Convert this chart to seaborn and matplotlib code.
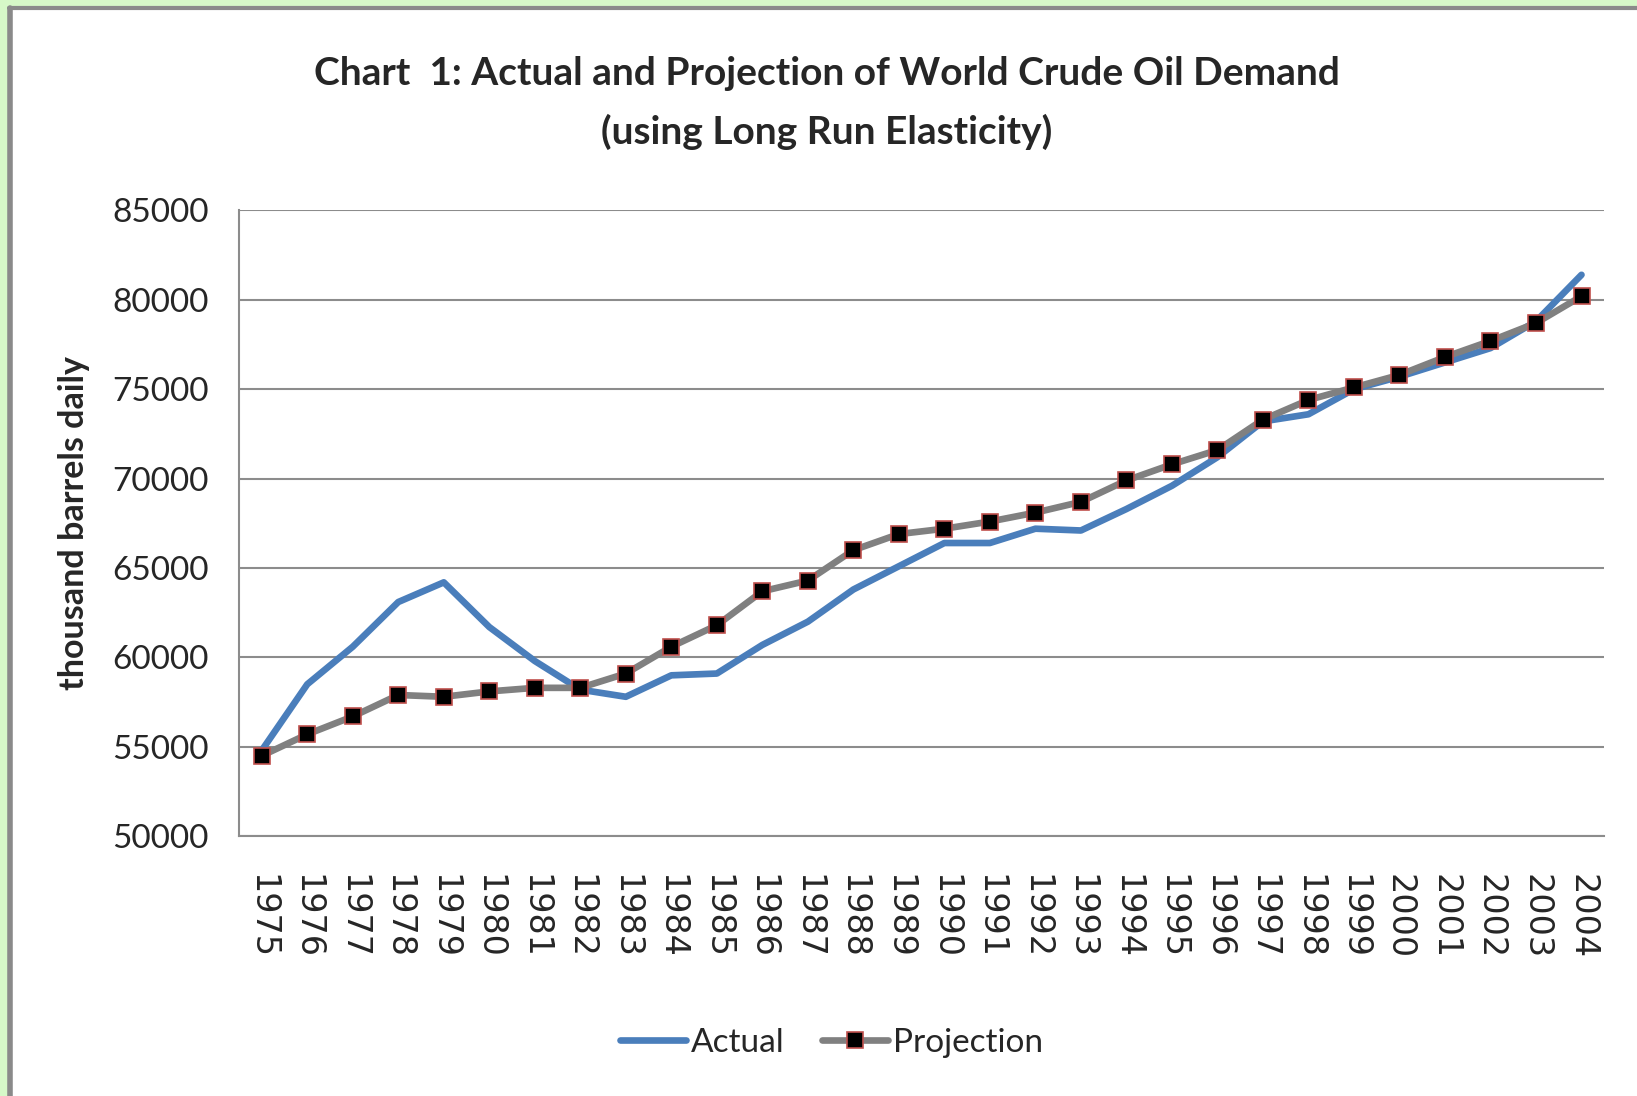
import matplotlib
matplotlib.use('Agg')
import matplotlib.pyplot as plt
import matplotlib.patches as mpatches
from matplotlib.lines import Line2D
import pandas as pd
import seaborn as sns

# Data
years = list(range(1975, 2005))
actual = [54800, 58500, 60600, 63100, 64200, 61700, 59800, 58200, 57800, 59000,
          59100, 60700, 62000, 63800, 65100, 66400, 66400, 67200, 67100, 68300,
          69600, 71200, 73200, 73600, 75000, 75700, 76500, 77300, 78800, 81400]
projection = [54500, 55700, 56700, 57900, 57800, 58100, 58300, 58300, 59100, 60600,
              61800, 63700, 64300, 66000, 66900, 67200, 67600, 68100, 68700, 69900,
              70800, 71600, 73300, 74400, 75100, 75800, 76800, 77700, 78700, 80200]
year_labels = [str(y) for y in years]

df = pd.DataFrame({'year': year_labels, 'Actual': actual, 'Projection': projection})

sns.set_style('white')
plt.rcParams['font.family'] = ['Lato', 'DejaVu Sans']

fig = plt.figure(figsize=(16.37, 10.96), dpi=100)
fig.patch.set_facecolor('#d6f8c8')

# white panel with grey frame on top and left
fig.patches.append(mpatches.Rectangle((0.0055, 0), 1.0, 0.9925, transform=fig.transFigure,
                                      facecolor='white', edgecolor='none', zorder=-2))
fig.add_artist(Line2D([0.0055, 1], [0.9925, 0.9925], transform=fig.transFigure,
                      color='#8a8a8a', linewidth=3, zorder=-1))
fig.add_artist(Line2D([0.0060, 0.0060], [0, 0.9925], transform=fig.transFigure,
                      color='#8a8a8a', linewidth=4, zorder=-1))

ax = fig.add_axes([0.146, 0.237, 0.834, 0.571])
ax.set_zorder(2)
ax.set_facecolor('white')

sns.lineplot(ax=ax, x=df.year, y=df.Actual, color='#4a7ebb', linewidth=4.8,
             label='Actual', sort=False)
sns.lineplot(ax=ax, x=df.year, y=df.Projection, color='#808080', linewidth=4.8,
             marker='s', markersize=12, markerfacecolor='black',
             markeredgecolor='#c0504d', markeredgewidth=1.2,
             label='Projection', sort=False)

ax.set_xlim(-0.5, len(years) - 0.5)
ax.set_ylim(50000, 85000)
ax.set_yticks(range(50000, 85001, 5000))
ax.yaxis.grid(True, color='#8c8c8c', linewidth=1.5)
ax.xaxis.grid(False)

for side in ['top', 'right']:
    ax.spines[side].set_visible(False)
ax.spines['left'].set_color('#8c8c8c')
ax.spines['bottom'].set_color('#8c8c8c')
ax.spines['left'].set_linewidth(1.5)
ax.spines['bottom'].set_linewidth(1.5)

ax.tick_params(axis='y', labelsize=24, pad=22, length=0)
ax.tick_params(axis='x', labelsize=24, pad=27, length=0)
plt.setp(ax.get_xticklabels(), rotation=-90, family='DejaVu Sans')

ax.set_xlabel('')
ax.set_ylabel('thousand barrels daily', fontsize=24.5, fontweight='bold', labelpad=16)

fig.suptitle('Chart  1: Actual and Projection of World Crude Oil Demand\n(using Long Run Elasticity)',
             fontsize=28, fontweight='bold', x=0.505, y=0.949, linespacing=1.75)

ax.legend(loc='center', bbox_to_anchor=(0.434, -0.33), ncol=2, frameon=False,
          fontsize=24, handlelength=2.0, handletextpad=0.15, columnspacing=1.1)

fig.savefig('out.png', dpi=100)
